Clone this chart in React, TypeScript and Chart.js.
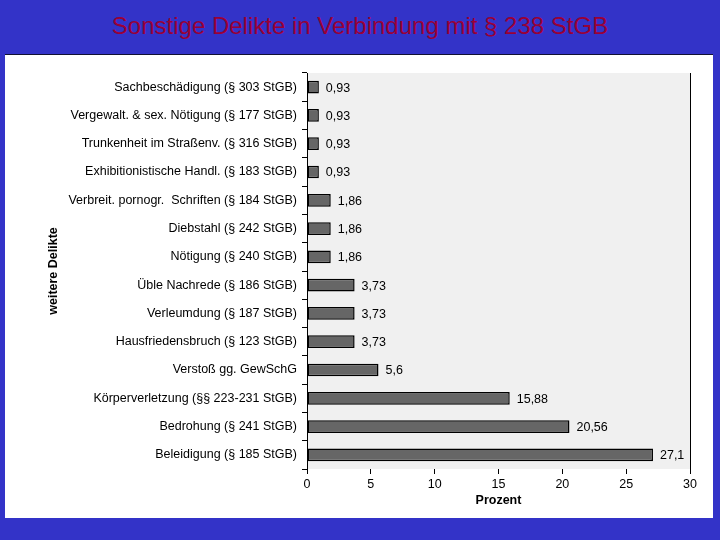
import React, { useEffect, useRef } from "react";
import { Chart, registerables } from "chart.js";

Chart.register(...registerables);

const chartTitle = "Sonstige Delikte in Verbindung mit § 238 StGB";
const xAxisTitle = "Prozent";
const yAxisTitle = "weitere Delikte";

const categories = [
  "Sachbeschädigung (§ 303 StGB)",
  "Vergewalt. & sex. Nötigung (§ 177 StGB)",
  "Trunkenheit im Straßenv. (§ 316 StGB)",
  "Exhibitionistische Handl. (§ 183 StGB)",
  "Verbreit. pornogr.  Schriften (§ 184 StGB)",
  "Diebstahl (§ 242 StGB)",
  "Nötigung (§ 240 StGB)",
  "Üble Nachrede (§ 186 StGB)",
  "Verleumdung (§ 187 StGB)",
  "Hausfriedensbruch (§ 123 StGB)",
  "Verstoß gg. GewSchG",
  "Körperverletzung (§§ 223-231 StGB)",
  "Bedrohung (§ 241 StGB)",
  "Beleidigung (§ 185 StGB)",
];

const values = [0.93, 0.93, 0.93, 0.93, 1.86, 1.86, 1.86, 3.73, 3.73, 3.73, 5.6, 15.88, 20.56, 27.1];

const valueLabels = ["0,93", "0,93", "0,93", "0,93", "1,86", "1,86", "1,86", "3,73", "3,73", "3,73", "5,6", "15,88", "20,56", "27,1"];

const xMin = 0;
const xMax = 30;
const xStep = 5;

const FONT = "'Liberation Sans', Arial, sans-serif";

const plotBgPlugin = {
  id: "plotBg",
  beforeDraw(chart: any) {
    const { ctx, chartArea } = chart;
    const { left, top, right, bottom } = chartArea;
    ctx.save();
    ctx.fillStyle = "#f0f0f0";
    ctx.fillRect(left, top, right - left, bottom - top);
    ctx.restore();
  },
  afterDraw(chart: any) {
    const { ctx, chartArea } = chart;
    const { top, right, bottom } = chartArea;
    ctx.save();
    ctx.strokeStyle = "#000";
    ctx.lineWidth = 1;
    ctx.beginPath();
    const x = Math.round(right) + 0.5;
    ctx.moveTo(x, top);
    ctx.lineTo(x, bottom);
    ctx.stroke();
    ctx.restore();
  },
};

const valueLabelPlugin = {
  id: "valueLabels",
  afterDatasetsDraw(chart: any) {
    const { ctx } = chart;
    const meta = chart.getDatasetMeta(0);
    ctx.save();
    ctx.fillStyle = "#000";
    ctx.font = `12.5px ${FONT}`;
    ctx.textAlign = "left";
    ctx.textBaseline = "middle";
    meta.data.forEach((bar: any, i: number) => {
      ctx.fillText(valueLabels[i], bar.x + 7, bar.y + 1);
    });
    ctx.restore();
  },
};

export default function App() {
  const canvasRef = useRef<HTMLCanvasElement | null>(null);

  useEffect(() => {
    if (!canvasRef.current) return;
    const chart = new Chart(canvasRef.current, {
      type: "bar",
      data: {
        labels: categories,
        datasets: [
          {
            data: values,
            backgroundColor: "#666666",
            borderColor: "#000000",
            borderWidth: 1.5,
            borderSkipped: false,
            barPercentage: 0.45,
            categoryPercentage: 1,
          },
        ],
      },
      options: {
        indexAxis: "y",
        responsive: false,
        animation: false,
        devicePixelRatio: 1,
        layout: { padding: { left: 41, top: 18, right: 23, bottom: 0 } },
        plugins: {
          legend: { display: false },
          tooltip: { enabled: false },
          title: { display: false },
        },
        scales: {
          x: {
            type: "linear",
            min: xMin,
            max: xMax,
            ticks: {
              stepSize: xStep,
              color: "#000",
              padding: 3,
              font: { family: FONT, size: 12.5 },
              maxRotation: 0,
            },
            grid: {
              drawOnChartArea: false,
              drawTicks: true,
              tickLength: 5,
              color: "#000",
            },
            border: { display: false },
            title: {
              display: true,
              text: xAxisTitle,
              color: "#000",
              font: { family: FONT, size: 12.5, weight: "bold" },
              padding: { top: 0, bottom: 9.5 },
            },
            afterFit(scale: any) {
              scale.height = 49;
            },
          },
          y: {
            type: "category",
            ticks: {
              color: "#000",
              padding: 5,
              font: { family: FONT, size: 12.5 },
              autoSkip: false,
            },
            grid: {
              offset: true,
              drawOnChartArea: false,
              drawTicks: true,
              tickLength: 5,
              color: "#000",
            },
            border: { display: true, color: "#000", width: 1 },
            title: {
              display: true,
              text: yAxisTitle,
              color: "#000",
              font: { family: FONT, size: 12.5, weight: "bold" },
              padding: { top: 0, bottom: 0 },
            },
            afterFit(scale: any) {
              scale.width = 261;
            },
          },
        },
      } as any,
      plugins: [plotBgPlugin, valueLabelPlugin],
    });
    return () => chart.destroy();
  }, []);

  return (
    <div
      style={{
        position: "absolute",
        left: 0,
        top: 0,
        width: 720,
        height: 540,
        background: "#3333c8",
        overflow: "hidden",
      }}
    >
      <div
        style={{
          position: "absolute",
          left: 0,
          top: 10,
          width: 720,
          textAlign: "center",
          fontFamily: FONT,
          fontSize: 24,
          lineHeight: "32px",
          color: "#990036",
          whiteSpace: "pre",
        }}
      >
        {chartTitle}
      </div>
      <div
        style={{
          position: "absolute",
          left: 5,
          top: 54,
          width: 708,
          height: 463,
          background: "#ffffff",
          borderTop: "1px solid #111133",
        }}
      >
        <canvas ref={canvasRef} width={708} height={463} style={{ display: "block" }} />
      </div>
    </div>
  );
}
